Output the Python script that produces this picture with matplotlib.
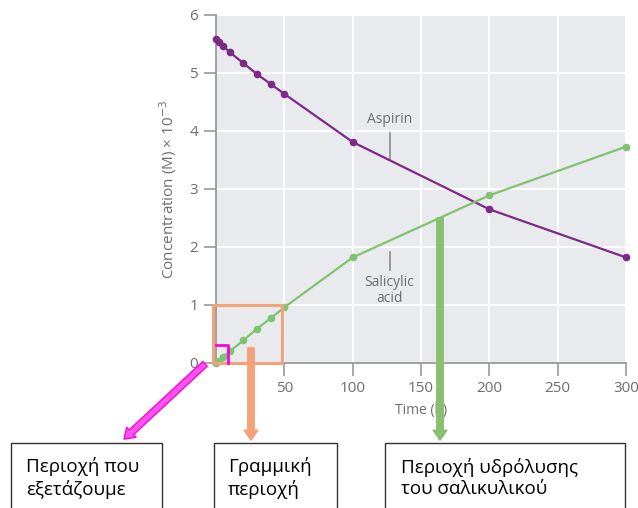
import matplotlib
matplotlib.use("Agg")
import matplotlib.pyplot as plt
from matplotlib.patches import Rectangle, FancyArrowPatch

plt.rcParams['font.family'] = ['Open Sans', 'DejaVu Sans']
plt.rcParams['mathtext.fontset'] = 'dejavusans'

# aspirin hydrolysis data (concentrations x 10^-3 M)
time_h = [0, 2, 5, 10, 20, 30, 40, 50, 100, 200, 300]
aspirin = [5.58, 5.53, 5.47, 5.36, 5.17, 4.98, 4.81, 4.64, 3.81, 2.65, 1.82]
salicylic = [0.0, 0.04, 0.10, 0.20, 0.39, 0.59, 0.77, 0.96, 1.82, 2.89, 3.73]

x_ticks = [50, 100, 150, 200, 250, 300]
y_ticks = [0, 1, 2, 3, 4, 5, 6]

box_texts = ['Περιοχή που\nεξετάζουμε', 'Γραμμική\nπεριοχή',
             'Περιοχή υδρόλυσης\nτου σαλικυλικού']

PURPLE = '#7b2a85'
GREEN = '#80c36f'
GREY_TXT = '#6d6e71'
ORANGE = '#f4a27a'
MAGENTA = '#ff00e0'

W, H = 638, 508
fig = plt.figure(figsize=(W / 100, H / 100), dpi=100)


def fx(px):
    return px / W


def fy(py):
    return 1 - py / H


ax = fig.add_axes([fx(216), fy(363), 410 / W, 348 / H])
ax.set_facecolor('#e8eaed')
ax.set_xlim(0, 300)
ax.set_ylim(0, 6)
ax.set_xticks(x_ticks)
ax.set_yticks(y_ticks)
ax.grid(True, color='white', lw=1.4)
ax.set_axisbelow(True)
for s in ['top', 'right']:
    ax.spines[s].set_visible(False)
for s in ['left', 'bottom']:
    ax.spines[s].set_color('#9a9a9a')
    ax.spines[s].set_linewidth(1.3)
ax.tick_params(direction='out', length=9, width=1.2, color='#9a9a9a',
               labelcolor=GREY_TXT, labelsize=11, pad=4)

ax.plot(time_h, aspirin, color=PURPLE, lw=1.6, marker='o', ms=4.5, clip_on=False, zorder=3)
ax.plot(time_h, salicylic, color=GREEN, lw=1.6, marker='o', ms=4.5, clip_on=False, zorder=3)

ax.set_xlabel('Time (h)', color=GREY_TXT, fontsize=10, labelpad=5)
ax.set_ylabel('Concentration (M) × 10$^{-3}$', color=GREY_TXT, fontsize=11, labelpad=7)

# curve labels with leader lines
ax.text(127, 4.2, 'Aspirin', color=GREY_TXT, fontsize=10, ha='center', va='center')
ax.plot([127, 127], [3.97, 3.50], color='#8a8a8a', lw=1.2)
ax.text(127, 1.25, 'Salicylic\nacid', color=GREY_TXT, fontsize=10, ha='center',
        va='center', linespacing=1.1)
ax.plot([127, 127], [1.91, 1.60], color='#8a8a8a', lw=1.2)

# highlighted regions
ax.add_patch(Rectangle((-2, 0), 50, 1.0, fill=False, ec=ORANGE, lw=2.2,
                       clip_on=False, zorder=4))
ax.plot([0, 8.5, 8.5], [0.31, 0.31, 0], color=MAGENTA, lw=2, clip_on=False, zorder=5)

# arrows from the plot to the boxes
arrows = [
    ((fx(207), fy(362)), (fx(122), fy(441)), MAGENTA, '#ff55ee'),
    ((fx(251), fy(345)), (fx(251), fy(443)), ORANGE, ORANGE),
    ((fx(440), fy(215)), (fx(440), fy(443)), '#88c070', '#88c070'),
]
for start, end, ec, fc in arrows:
    fig.patches.append(FancyArrowPatch(
        start, end, transform=fig.transFigure,
        arrowstyle='simple,head_length=0.4,head_width=0.55,tail_width=0.26',
        mutation_scale=18, ec=ec, fc=fc, lw=1, zorder=6))

# text boxes at the bottom (run off the lower edge)
boxes = [(11, 162), (214, 337), (385, 625)]
text_x = [26, 228, 401]
for (x0, x1), tx, label in zip(boxes, text_x, box_texts):
    fig.patches.append(Rectangle((fx(x0), fy(560)), fx(x1 - x0), (560 - 443) / H,
                                 transform=fig.transFigure, fill=True, fc='white',
                                 ec='#333333', lw=1.0, zorder=5))
    fig.text(fx(tx), fy(478), label, fontsize=13.5, color='black', ha='left',
             va='center', linespacing=1.25, zorder=6)

fig.savefig('out.png', dpi=100)
